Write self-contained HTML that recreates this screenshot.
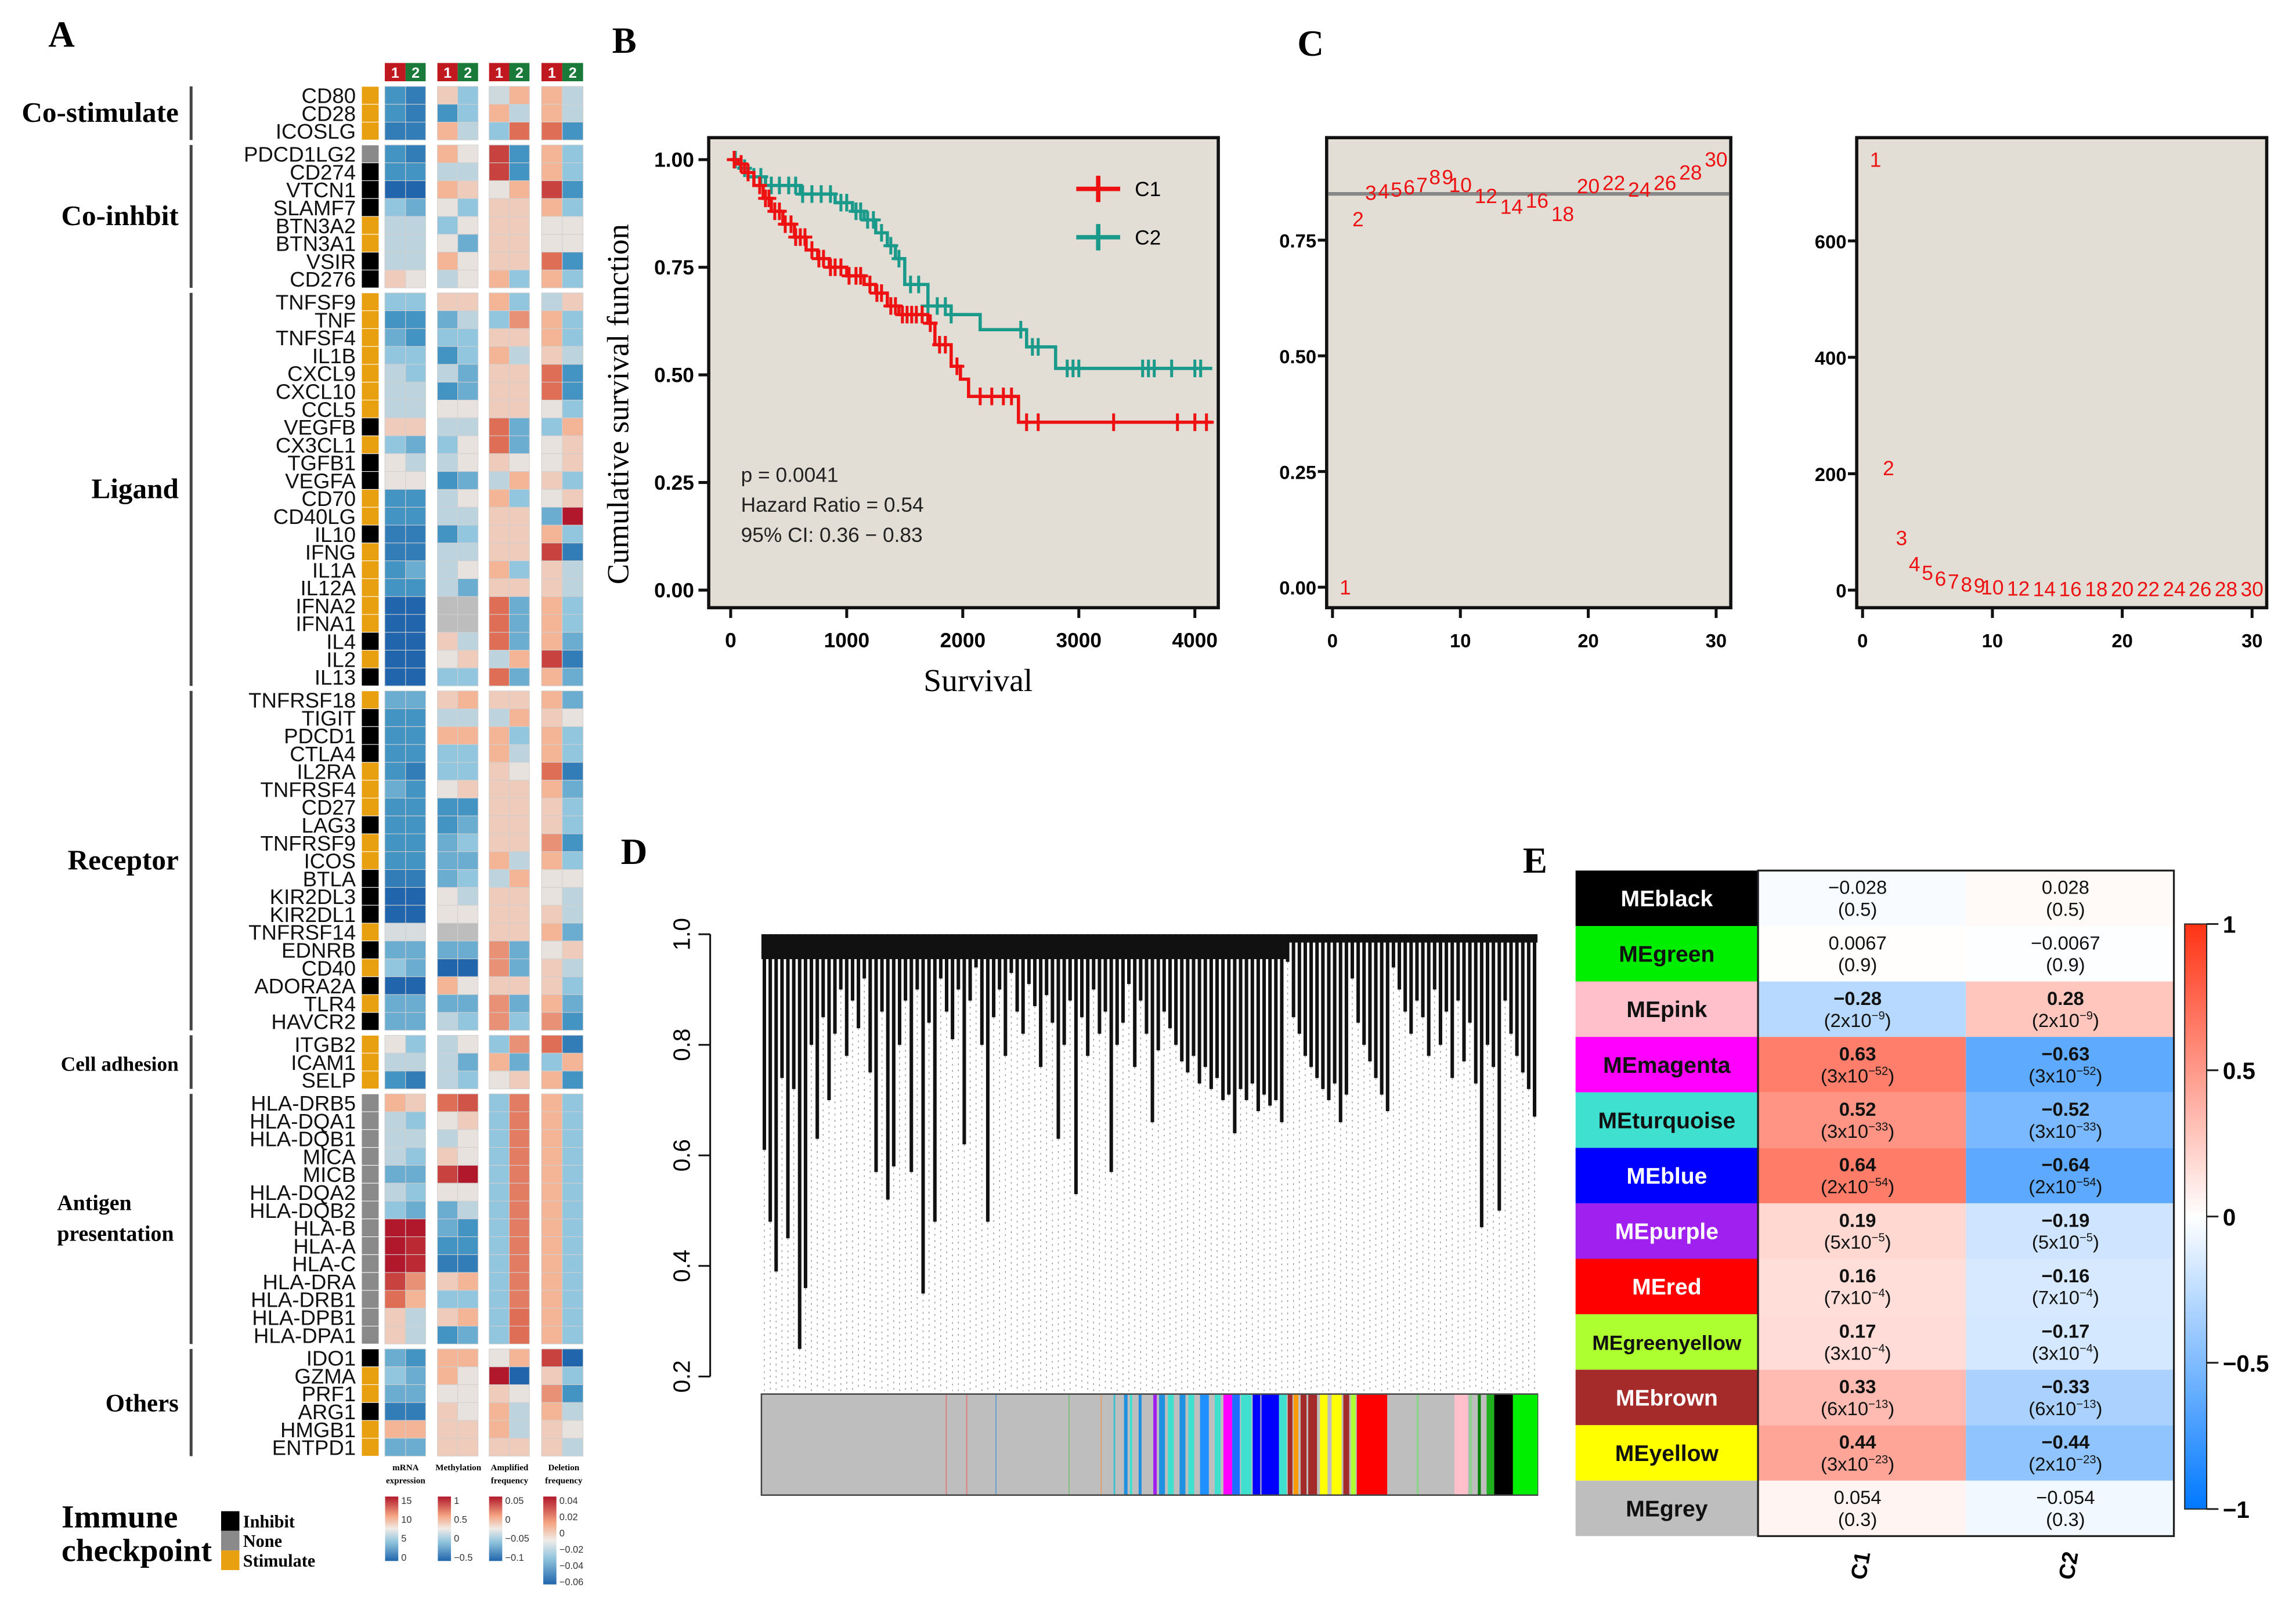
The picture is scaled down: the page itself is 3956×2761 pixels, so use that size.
<!DOCTYPE html>
<html><head><meta charset="utf-8"><style>
html,body{margin:0;padding:0;background:#fff;}
svg{display:block;}
text{font-family:"Liberation Sans",sans-serif;}
.serif{font-family:"Liberation Serif",serif;}
</style></head><body>
<svg id="fig" xmlns="http://www.w3.org/2000/svg" width="3956" height="2761" viewBox="0 0 1568 1094" preserveAspectRatio="none">
<rect x="0" y="0" width="1568" height="1094" fill="#fff"/>
<defs>
<linearGradient id="corrGrad" x1="0" y1="0" x2="0" y2="1">
<stop offset="0" stop-color="#ff3314"/><stop offset="0.5" stop-color="#ffffff"/><stop offset="1" stop-color="#0078ff"/>
</linearGradient>
<linearGradient id="hmGrad" x1="0" y1="0" x2="0" y2="1">
<stop offset="0" stop-color="#b2182b"/><stop offset="0.3" stop-color="#f4a582"/><stop offset="0.5" stop-color="#f0ece8"/><stop offset="0.7" stop-color="#92c5de"/><stop offset="1" stop-color="#2166ac"/>
</linearGradient>
</defs>
<g id="root"></g>
</svg>
<script>
// ---------- Panel A data ----------
const genes = ["CD80","CD28","ICOSLG","PDCD1LG2","CD274","VTCN1","SLAMF7","BTN3A2","BTN3A1","VSIR","CD276","TNFSF9","TNF","TNFSF4","IL1B","CXCL9","CXCL10","CCL5","VEGFB","CX3CL1","TGFB1","VEGFA","CD70","CD40LG","IL10","IFNG","IL1A","IL12A","IFNA2","IFNA1","IL4","IL2","IL13","TNFRSF18","TIGIT","PDCD1","CTLA4","IL2RA","TNFRSF4","CD27","LAG3","TNFRSF9","ICOS","BTLA","KIR2DL3","KIR2DL1","TNFRSF14","EDNRB","CD40","ADORA2A","TLR4","HAVCR2","ITGB2","ICAM1","SELP","HLA-DRB5","HLA-DQA1","HLA-DQB1","MICA","MICB","HLA-DQA2","HLA-DQB2","HLA-B","HLA-A","HLA-C","HLA-DRA","HLA-DRB1","HLA-DPB1","HLA-DPA1","IDO1","GZMA","PRF1","ARG1","HMGB1","ENTPD1"];
const geneTypes = "SSS"+"NIIISSII"+"SSSSSSSISIISSISSSSSISI"+"SIIISSSISSIIISISISI"+"SSS"+"NNNNNNNNNNNNNN"+"ISSISS";
const groupNames = ["Co-stimulate","Co-inhbit","Ligand","Receptor","Cell adhesion","Antigen presentation","Others"];
const groupSizes = [3,8,22,19,3,14,6];
const NA = 9;
const heatValues = [
[-2,-2.5,0.5,-1,-0.3,1,1,-0.5],[-2,-2.5,-2,-1,1,-0.5,1,-0.5],[-2.5,-2.5,1,-0.5,-1,2,2,-2],
[-2,-2.5,1,0,2.5,-2,1,-1],[-2,-2,-0.5,-0.5,2.5,-2,1,-1],[-3,-3,1,0.5,0,1,2.5,-2],[-1,-1.5,0,-1,0.5,0.5,1,-1],[-0.5,-0.5,-1,0,0.5,0.5,0,0],[-0.5,-0.5,0,-1.5,0.5,0.5,0,0],[-0.5,-0.5,1,0,0.5,0.5,2,-2],[0.5,0,-0.5,0,1,-1,1,-1],
[-1,-1,0.5,0.5,1,-1,-0.5,0.5],[-2,-2,-1.5,-0.5,-1,1.5,1,-1],[-1.5,-2,-1,-1,0.5,0.5,1,-1],[-1,-1,-2,-1,1,-0.5,0.5,-0.5],[-0.5,-1,-0.5,-1.5,0.5,0.5,2,-2],[-0.5,-0.5,-2,-1.5,0.5,0.5,2,-2],[-0.5,-0.5,0,0,0.5,0.5,0,-1],[0.5,0.5,-0.5,-0.5,2,-1.5,-1,1],[-1,-1.5,-1,0,2,-1.5,0,0.5],[0,-0.5,-0.5,0,0.5,0,0,0.5],[0,0,-2,-1.5,-0.5,1,0.5,-1],[-2,-2,-0.5,0,1,-1,0,0.5],[-2,-2,-0.5,-0.5,0.5,0.5,-1.5,3],[-2.5,-2.5,-2,-1,0.5,0.5,1,-1],[-2.5,-2.5,-0.5,-0.5,0.5,0.5,2.5,-2.5],[-2,-1.5,-0.5,0,1,-1,0.5,-0.5],[-2,-2,-0.5,-1.5,0.5,0.5,0.5,-0.5],[-3,-3,NA,NA,2,-1.5,1,-1],[-3,-3,NA,NA,2,-1.5,1,-1],[-3,-3,0.5,-0.5,2,-1.5,1,-1.5],[-3,-3,0,0.5,-0.5,1,2.5,-2.5],[-3,-3,-1,-1,2,-1.5,1,-1.5],
[-1.5,-1.5,0.5,1,0.5,0.5,1,-1.5],[-2,-2,-0.5,-0.5,-0.5,1,0.5,0],[-2,-2,1,1,1,-1,1,-1],[-2,-2,-1,-1,1,-0.5,1,-1],[-2,-2.5,-1,-1,0.5,0,2,-2.5],[-1.5,-2,0,0.5,0.5,0.5,1,-1.5],[-2,-2,-2,-2,0.5,0.5,0.5,-1],[-2,-2,-2,-1.5,0.5,0.5,0.5,-1],[-2,-2,-1.5,-1,0.5,0.5,1.5,-2],[-2,-2,-1.5,-1.5,1,-0.5,1,-1],[-2.5,-2.5,-1.5,-1,-0.5,1,0,0],[-3,-3,0,-0.5,0.5,0.5,0,-0.5],[-3,-3,0,0,0.5,0.5,0.5,-0.5],[-0.2,-0.2,NA,NA,0.5,0.5,1,-1.5],[-1.5,-1.5,-1.5,-1.5,1.5,-1.5,0,0.5],[-1,-1.5,-3,-3,1.5,-1.5,0.5,-0.5],[-3,-3,1,0,0.5,0.5,0.5,-1],[-1.5,-1.5,-1.5,-1.5,1.5,-1.5,1,-1.5],[-1.5,-1.5,-0.5,-1,1.5,-1,1.5,-2],
[0,-1,-0.5,0,-1,1.5,2,-2.5],[-0.5,-0.5,-0.5,-1.5,1,-1.5,-1,1],[-2,-2.5,-0.5,-1,0,0.5,1,-2],
[1,0.5,2,2.3,-1,1.8,1,-1],[-0.5,-1,0,0.5,-1,1.8,1,-1],[-0.5,-0.5,-0.5,0,-1,1.8,1,-1],[-0.5,-1,0.5,0,-1,1.8,1,-1],[-1.5,-1.5,2.5,3,-1,1.8,1,-1],[-0.5,-1,0,0,-1,1.8,1,-1],[-1,-1.5,-1.5,-0.5,-1,1.8,1,-1],[3,3,-1.5,-2,-1,1.8,1,-1],[3,2.8,-2,-2,-1,1.8,1,-1],[3,2.8,-2.5,-2.5,-1,1.8,1,-1],[2.5,1.5,0.5,1,-1,1.8,1,-1],[2,1,-1,-1,-1,1.8,1,-1],[0.5,-0.5,0.5,1,-1,2,1,-1],[0.5,-0.5,-2,-1.5,-1,2,1,-1],
[-1.5,-2,1,1,0,1,2.5,-3],[-1,-1.5,1,0,3,-3,0.5,-1],[-1.5,-1.5,0,0,0.5,0,1.5,-2],[-2.5,-2.5,0.5,0,1,-0.5,1,-0.5],[1,1,0.5,0.5,1,-0.5,0.5,0],[-1.5,-1.5,0.5,0.5,0.5,0.5,0.5,-0.5]
];
const trackTitles = [["mRNA","expression"],["Methylation",""],["Amplified","frequency"],["Deletion","frequency"]];
const trackTicks = [["15","10","5","0"],["1","0.5","0","-0.5"],["0.05","0","-0.05","-0.1"],["0.04","0.02","0","-0.02","-0.04","-0.06"]];

// ---------- Panel B data ----------
const c1Times = [0,60,120,200,280,350,450,550,650,750,850,1000,1150,1250,1350,1450,1700,1760,1900,1980,2050,2480];
const c1Surv  = [1.0,0.99,0.97,0.94,0.91,0.88,0.85,0.82,0.79,0.77,0.75,0.73,0.71,0.69,0.66,0.64,0.62,0.57,0.52,0.49,0.45,0.39];
const c2Times = [0,80,150,300,600,900,1050,1150,1250,1350,1420,1500,1700,1900,2150,2550,2800];
const c2Surv  = [1.0,0.98,0.96,0.94,0.92,0.90,0.88,0.86,0.83,0.80,0.77,0.71,0.66,0.64,0.605,0.565,0.515];
const c1Censor = [30,90,150,250,300,330,380,420,470,520,560,600,640,700,760,800,860,900,950,1020,1080,1120,1200,1260,1300,1380,1420,1480,1520,1560,1600,1650,1720,1800,1850,1950,2150,2250,2350,2420,2550,2650,3300,3850,4000,4100];
const c2Censor = [40,120,200,260,350,420,500,560,620,700,780,860,950,1000,1080,1120,1180,1230,1300,1380,1450,1550,1620,1700,1780,1850,1900,2500,2600,2650,2900,2950,3000,3550,3600,3650,3800,4000,4050];
const bXTicks = [0,1000,2000,3000,4000];
const bYTicks = [0,0.25,0.5,0.75,1.0];
const endTime = 4150;

// ---------- Panel C data ----------
const cPowers = [1,2,3,4,5,6,7,8,9,10,12,14,16,18,20,22,24,26,28,30];
const cFit = [0.0,0.796,0.853,0.856,0.86,0.865,0.87,0.887,0.887,0.87,0.846,0.823,0.836,0.807,0.867,0.874,0.86,0.874,0.897,0.925];
const cConn = [740,210,90,45,30,20,15,10,8,5,3,2,2,2,2,2,2,2,2,2];
const cFitYTicks = [0,0.25,0.5,0.75];
const cConnYTicks = [0,200,400,600];
const cXTicks = [0,10,20,30];
const fitCutoff = 0.85;

// ---------- Panel D data ----------
const leafHeights = [0.61,0.48,0.39,0.74,0.45,0.72,0.25,0.36,0.80,0.63,0.85,0.70,0.82,0.90,0.78,0.88,0.83,0.92,0.75,0.57,0.86,0.52,0.58,0.80,0.88,0.57,0.90,0.35,0.84,0.48,0.92,0.86,0.81,0.90,0.62,0.88,0.94,0.80,0.48,0.85,0.90,0.78,0.93,0.86,0.82,0.91,0.87,0.76,0.89,0.84,0.63,0.80,0.88,0.53,0.85,0.78,0.90,0.82,0.86,0.57,0.80,0.84,0.91,0.76,0.88,0.82,0.66,0.79,0.86,0.83,0.80,0.77,0.75,0.78,0.73,0.76,0.72,0.74,0.70,0.71,0.64,0.72,0.70,0.73,0.68,0.71,0.69,0.70,0.66,0.95,0.85,0.82,0.78,0.76,0.74,0.72,0.70,0.73,0.66,0.71,0.92,0.84,0.80,0.77,0.74,0.71,0.68,0.94,0.90,0.86,0.82,0.88,0.85,0.78,0.90,0.80,0.86,0.74,0.88,0.77,0.84,0.73,0.47,0.80,0.76,0.50,0.88,0.82,0.78,0.75,0.72,0.67];
const dYTicks = [0.2,0.4,0.6,0.8,1.0];
const moduleStarts = [525,560,610,735,790,812,830,840,855,880,890,905,925,940,960,985,1000,1015,1030,1050,1065,1095,1110,1120,1132,1145,1165,1185,1205,1218,1228,1330,1395,1420,1435,1450,1463,1495];
const moduleEnds   = [527,562,612,737,792,815,836,844,860,886,900,915,935,950,975,995,1015,1028,1048,1063,1095,1108,1118,1128,1142,1160,1178,1202,1215,1226,1280,1334,1418,1425,1440,1463,1495,1537];
const moduleColors = ["#e08080","#e08080","#6aa0d0","#80c080","#e0a070","#40c0d0","#2090e0","#40e0d0","#2090e0","#a020f0","#2090e0","#40e0d0","#2090e0","#40e0d0","#1e90ff","#40e0d0","#ff00ff","#1e6fff","#40e0d0","#0000ff","#0000ff","#40e0d0","#a52a2a","#ff9900","#a52a2a","#a52a2a","#ffff00","#ffff00","#a52a2a","#adff2f","#ff0000","#90d090","#ffc0cb","#90d090","#008000","#20b020","#000000","#00ee00"];

// ---------- Panel E data ----------
const modules = ["MEblack","MEgreen","MEpink","MEmagenta","MEturquoise","MEblue","MEpurple","MEred","MEgreenyellow","MEbrown","MEyellow","MEgrey"];
const moduleFill = ["#000000","#00ee00","#ffc0cb","#ff00ff","#40e0d0","#0000ff","#a020f0","#ff0000","#adff2f","#a52a2a","#ffff00","#bebebe"];
const corrC1 = [-0.028,0.0067,-0.28,0.63,0.52,0.64,0.19,0.16,0.17,0.33,0.44,0.054];
const corrC2 = [0.028,-0.0067,0.28,-0.63,-0.52,-0.64,-0.19,-0.16,-0.17,-0.33,-0.44,-0.054];
const pMant1 = ["0.5","0.9","2","3","3","2","5","7","3","6","3","0.3"];
const pExp1 = ["","","-9","-52","-33","-54","-5","-4","-4","-13","-23",""];
const pMant2 = ["0.5","0.9","2","3","3","2","5","7","3","6","2","0.3"];
const pExp2 = ["","","-9","-52","-33","-54","-5","-4","-4","-13","-23",""];
const eTicks = [1,0.5,0,-0.5,-1];

// ---------- helpers ----------
const NS = "http://www.w3.org/2000/svg";
const root = document.getElementById('root');
function mk(tag, attrs, parent){ const e=document.createElementNS(NS,tag); for(const k in attrs) e.setAttribute(k,attrs[k]); (parent||root).appendChild(e); return e; }
function txt(s, attrs, parent){ const e=mk('text',attrs,parent); e.textContent=s; return e; }
function lerp(a,b,t){return a+(b-a)*t;}
function mixc(c1,c2,t){return 'rgb('+Math.round(lerp(c1[0],c2[0],t))+','+Math.round(lerp(c1[1],c2[1],t))+','+Math.round(lerp(c1[2],c2[2],t))+')';}
function heatColor(v){
  if(v===NA) return '#bdbdbd';
  const stops=[[-3,[33,102,172]],[-2,[67,147,195]],[-1,[146,197,222]],[0,[232,226,222]],[1,[244,180,150]],[2,[222,110,85]],[3,[178,24,43]]];
  v=Math.max(-3,Math.min(3,v));
  for(let i=0;i<stops.length-1;i++){ if(v<=stops[i+1][0]){ const t=(v-stops[i][0])/(stops[i+1][0]-stops[i][0]); return mixc(stops[i][1],stops[i+1][1],t);} }
  return 'rgb(178,24,43)';
}
function corrColor(v){ return v>=0 ? mixc([255,255,255],[255,50,20],v) : mixc([255,255,255],[0,120,255],-v); }

// ---------- Panel letters ----------
[["A",33,32],["B",418,36],["C",886,38],["D",424,590],["E",1040,596]].forEach(p=>{
  const t=txt(p[0],{x:p[1],y:p[2],'font-size':25,'font-weight':'bold','class':'serif'});
  
  
});

// ---------- Panel A ----------
const gA = mk('g',{});


const rowH=12.2, gapH=3.4, topY=59;
const colX=[262.8,277.0,298.7,312.6,334,347.8,369.8,384];
const colW=[14.2,13.7,13.9,13.9,13.8,13.8,14.2,14.2];
let rowY=[]; { let y=topY; groupSizes.forEach((n,gi)=>{ for(let i=0;i<n;i++){rowY.push(y); y+=rowH;} y+=gapH; }); }
for(let t=0;t<4;t++){
  for(let c=0;c<2;c++){
    const i=t*2+c;
    const r=mk('rect',{x:colX[i],y:43,width:colW[i],height:12.5,fill:c===0?'#c0181f':'#1a7a3a'},gA);
    
    
    const tt=txt(String(c+1),{x:colX[i]+colW[i]/2,y:53,'font-size':10,'font-weight':'bold',fill:'#fff','text-anchor':'middle'},gA);
    
    
  }
}
genes.forEach((g,i)=>{
  const y=rowY[i];
  const lab=txt(g,{x:243,y:y+rowH-0.8,'font-size':14.5,'text-anchor':'end',fill:'#111'},gA);
  
  
  const tp=geneTypes[i];
  const tb=mk('rect',{x:246.9,y:y,width:11.9,height:rowH,fill:tp==='S'?'#e8a010':tp==='I'?'#000':'#8a8a8a',stroke:'#fff','stroke-width':0.4},gA);
  
  
  heatValues[i].forEach((v,j)=>{
    const c=mk('rect',{x:colX[j],y:y,width:colW[j],height:rowH,fill:heatColor(v),stroke:'#d0d0d0','stroke-width':0.4},gA);
    
    
  });
});
{ let k=0; groupSizes.forEach((n,gi)=>{
  const y0=rowY[k], y1=rowY[k+n-1]+rowH; k+=n;
  const ln=mk('line',{x1:130.5,x2:130.5,y1:y0,y2:y1,stroke:'#444','stroke-width':2},gA);
  
  
  const cy=(y0+y1)/2;
  if(gi===5){
    const t1=txt('Antigen',{x:39,y:cy-6,'font-size':15,'font-weight':'bold','class':'serif'},gA);
    
    
    const t2=txt('presentation',{x:39,y:cy+15,'font-size':15,'font-weight':'bold','class':'serif'},gA);
    
    
  } else {
    const fs = gi===4?14:(gi===6?17:19.5);
    const t=txt(groupNames[gi],{x:122,y:cy+6,'font-size':fs,'font-weight':'bold','class':'serif','text-anchor':'end'},gA);
    
    
  }
}); }
{
  const t1=txt('Immune',{x:42,y:1043,'font-size':22,'font-weight':'bold','class':'serif'},gA);
  
  
  const t2=txt('checkpoint',{x:42,y:1066,'font-size':22,'font-weight':'bold','class':'serif'},gA);
  
  
  [['Inhibit','#000'],['None','#8a8a8a'],['Stimulate','#e8a010']].forEach((e,i)=>{
    const r=mk('rect',{x:151,y:1032+i*13.4,width:12.5,height:13.4,fill:e[1]},gA);
    
    
    const t=txt(e[0],{x:166,y:1043+i*13.4,'font-size':12,'font-weight':'bold','class':'serif'},gA);
    
    
  });
  for(let k=0;k<4;k++){
    const bx=[263,299,334,371][k];
    const a=txt(trackTitles[k][0],{x:bx+14,y:1004,'font-size':6,'font-weight':'bold','text-anchor':'middle','class':'serif'},gA);
    
    
    if(trackTitles[k][1]){ const b=txt(trackTitles[k][1],{x:bx+14,y:1013,'font-size':6,'font-weight':'bold','text-anchor':'middle','class':'serif'},gA);
      
       }
    const n=trackTicks[k].length;
    const h = n===6?60:44;
    const cb=mk('rect',{x:bx,y:1022,width:9,height:h,fill:'url(#hmGrad)'},gA);
    
    
    trackTicks[k].forEach((s,i)=>{
      const t=txt(s.replace('-','−'),{x:bx+11,y:1027+i*(h/(n-0.6)),'font-size':6.5,fill:'#333'},gA);
      
      
    });
  }
}

// ---------- Panel B ----------
const gB = mk('g',{});


const bx=t=>499+t*(816-499)/4000, by=s=>403-s*(403-109);
{
  const bg=mk('rect',{x:484,y:94,width:348,height:321,fill:'#e2ddd5',stroke:'#111','stroke-width':2.2},gB);
  
  
  bYTicks.forEach(v=>{
    const tk=mk('line',{x1:477,x2:484,y1:by(v),y2:by(v),stroke:'#111','stroke-width':2},gB);
    
    
    const t=txt(v.toFixed(2),{x:474,y:by(v)+5,'font-size':14,'font-weight':'bold','text-anchor':'end'},gB);
    
    
  });
  bXTicks.forEach(v=>{
    const tk=mk('line',{x1:bx(v),x2:bx(v),y1:415,y2:422,stroke:'#111','stroke-width':2},gB);
    
    
    const t=txt(String(v),{x:bx(v),y:442,'font-size':14,'font-weight':'bold','text-anchor':'middle'},gB);
    
    
  });
  const xl=txt('Survival',{x:668,y:472,'font-size':22,'class':'serif','text-anchor':'middle'},gB);
  
  
  const yl=txt('Cumulative survival function',{x:0,y:0,'font-size':21,'class':'serif','text-anchor':'middle',transform:'translate(429,276) rotate(-90)'},gB);
  
  
  function stepPath(T,S){ let d='M'+bx(T[0])+','+by(S[0]); for(let i=1;i<T.length;i++){ d+='H'+bx(T[i])+'V'+by(S[i]); } d+='H'+bx(endTime); return d; }
  function survAt(T,S,t){ let s=S[0]; for(let i=0;i<T.length;i++){ if(T[i]<=t) s=S[i]; } return s; }
  [[c2Times,c2Surv,c2Censor,'#1a9a8a','c2'],[c1Times,c1Surv,c1Censor,'#ee1111','c1']].forEach(sr=>{
    const p=mk('path',{d:stepPath(sr[0],sr[1]),fill:'none',stroke:sr[3],'stroke-width':2.2},gB);
    
    
    sr[2].forEach(t=>{
      const x=bx(t), y=by(survAt(sr[0],sr[1],t));
      const c=mk('path',{d:'M'+(x-5)+','+y+'h10M'+x+','+(y-6)+'v12',stroke:sr[3],'stroke-width':2},gB);
      
      
    });
  });
  [['C1','#ee1111',129],['C2','#1a9a8a',162]].forEach(l=>{
    const m=mk('path',{d:'M735,'+l[2]+'h30M750,'+(l[2]-9)+'v18',stroke:l[1],'stroke-width':3},gB);
    
    
    const t=txt(l[0],{x:775,y:l[2]+5,'font-size':14},gB);
    
    
  });
  ['p = 0.0041','Hazard Ratio = 0.54','95% CI: 0.36 − 0.83'].forEach((s,i)=>{
    const t=txt(s,{x:506,y:329+i*20.5,'font-size':14,fill:'#222'},gB);
    
    
  });
}

// ---------- Panel C ----------
function panelC(name,x0,x1,yTicks,yFn,fmt){
  const g=mk('g',{});
  
  
  const xFn=v=>x0+4+v*(x1-x0-14)/30;
  const bg=mk('rect',{x:x0,y:94,width:x1-x0,height:321,fill:'#e2ddd5',stroke:'#111','stroke-width':2.2},g);
  
  
  yTicks.forEach(v=>{
    const tk=mk('line',{x1:x0-6,x2:x0,y1:yFn(v),y2:yFn(v),stroke:'#111','stroke-width':2},g);
    
    
    const t=txt(fmt(v),{x:x0-7,y:yFn(v)+5,'font-size':13,'font-weight':'bold','text-anchor':'end'},g);
    
    
  });
  cXTicks.forEach(v=>{
    const tk=mk('line',{x1:xFn(v),x2:xFn(v),y1:415,y2:422,stroke:'#111','stroke-width':2},g);
    
    
    const t=txt(String(v),{x:xFn(v),y:442,'font-size':13,'font-weight':'bold','text-anchor':'middle'},g);
    
    
  });
  return [g,xFn];
}
{
  const fy=v=>401-v*316;
  const [g,xf]=panelC('panel-c-scale-free-fit',906,1182,cFitYTicks,fy,v=>v.toFixed(2));
  const ln=mk('line',{x1:907,x2:1181,y1:fy(fitCutoff),y2:fy(fitCutoff),stroke:'#888','stroke-width':2.5},g);
  
  
  cPowers.forEach((p,i)=>{
    const t=txt(String(p),{x:xf(p),y:fy(cFit[i])+5,'font-size':14,fill:'#ee1111','text-anchor':'middle'},g);
    
    
  });
  const cy=v=>403-v*(79.5/200);
  const [g2,xf2]=panelC('panel-c-mean-connectivity',1268,1548,cConnYTicks,cy,v=>String(v));
  cPowers.forEach((p,i)=>{
    const t=txt(String(p),{x:xf2(p),y:cy(cConn[i])+5,'font-size':14,fill:'#ee1111','text-anchor':'middle'},g2);
    
    
  });
}

// ---------- Panel D ----------
{
  const g=mk('g',{});
  
  
  const dy=v=>638+(1.0-v)*(940-638)/0.8;
  const ax=mk('line',{x1:485,x2:485,y1:dy(1.0),y2:dy(0.2),stroke:'#111','stroke-width':1.2},g);
  
  
  dYTicks.forEach(v=>{
    const tk=mk('line',{x1:477,x2:485,y1:dy(v),y2:dy(v),stroke:'#111','stroke-width':1.2},g);
    
    
    const t=txt(v.toFixed(1),{x:0,y:0,'font-size':16,'text-anchor':'middle',transform:'translate(471,'+dy(v)+') rotate(-90)'},g);
    
    
  });
  const L0=520, L1=1050, n=leafHeights.length, step=(L1-L0)/n;
  leafHeights.forEach((h,i)=>{
    const x=L0+step*(i+0.5);
    const dl=mk('line',{x1:x,x2:x,y1:dy(h),y2:950,stroke:'#999','stroke-width':0.6,'stroke-dasharray':'1.2,3'},g);
    
    
  });
  const band=mk('path',{d:'M'+L0+','+dy(1.0)+'H880V'+dy(0.955)+'H'+L0+'Z M880,'+dy(1.0)+'H1050V'+dy(0.985)+'H880Z',fill:'#111'},g);
  
  
  leafHeights.forEach((h,i)=>{
    const x=L0+step*(i+0.5);
    const ln=mk('line',{x1:x,x2:x,y1:dy(1.0),y2:dy(h),stroke:'#111','stroke-width':2.4},g);
    
    
  });
  const mx=z=>L0+(z-210)*(L1-L0)/1327;
  const cbg=mk('rect',{x:L0,y:952,width:L1-L0,height:69,fill:'#bebebe',stroke:'#444','stroke-width':1},g);
  
  
  moduleStarts.forEach((s,i)=>{
    const r=mk('rect',{x:mx(s),y:952.5,width:Math.max(0.4,mx(moduleEnds[i])-mx(s)),height:68,fill:moduleColors[i]},g);
    
    
  });
}

// ---------- Panel E ----------
{
  const g=mk('g',{});
  
  
  const top=594.5, rh=(1049-594.5)/12, xl=1076, xc=1200.6, cw=142;
  modules.forEach((m,i)=>{
    const y=top+i*rh;
    const r=mk('rect',{x:xl,y:y,width:xc-xl,height:rh,fill:moduleFill[i]},g);
    
    
    const light=['MEblack','MEblue','MEpurple','MEred','MEbrown'].includes(m);
    const t=txt(m,{x:(xl+xc)/2,y:y+rh/2+5.5,'font-size':m.length>11?14:15.5,'font-weight':'bold','text-anchor':'middle',fill:light?'#fff':'#111'},g);
    
    
    [[corrC1,pMant1,pExp1],[corrC2,pMant2,pExp2]].forEach((col,j)=>{
      const v=col[0][i];
      const c=mk('rect',{x:xc+j*cw,y:y,width:cw,height:rh,fill:corrColor(v)},g);
      
      
      const cx=xc+j*cw+cw/2-3;
      const vt=txt(String(v).replace('-','−'),{x:cx,y:y+16,'font-size':13,'text-anchor':'middle',fill:'#111','font-weight':Math.abs(v)>0.1?'bold':'normal'},g);
      
      
      const pt=txt('',{x:cx,y:y+31,'font-size':13,'text-anchor':'middle',fill:'#111'},g);
      
      
      if(col[2][i]){ pt.textContent='('+col[1][i]+'x10'; const sp=mk('tspan',{'font-size':8,dy:-5},pt); sp.textContent=col[2][i].replace('-','−'); const sp2=mk('tspan',{dy:5},pt); sp2.textContent=')'; }
      else pt.textContent='('+col[1][i]+')';
    });
  });
  const bd=mk('rect',{x:xc,y:top,width:cw*2,height:rh*12,fill:'none',stroke:'#222','stroke-width':1.3},g);
  
  
  ['C1','C2'].forEach((s,j)=>{
    const t=txt(s,{x:0,y:0,'font-size':15,'font-weight':'bold','text-anchor':'middle',transform:'translate('+(xc+j*cw+cw/2+4)+',1070) rotate(-80)'},g);
    
    
  });
  const cb=mk('rect',{x:1492,y:631,width:15,height:399.5,fill:'url(#corrGrad)',stroke:'#222','stroke-width':0.8},g);
  
  
  eTicks.forEach(v=>{
    const y=631+(1-v)/2*399.5;
    const tk=mk('line',{x1:1507,x2:1515,y1:y,y2:y,stroke:'#222','stroke-width':1.2},g);
    
    
    const t=txt(String(v).replace('-','−'),{x:1518,y:y+6,'font-size':16,'font-weight':'bold'},g);
    
    
  });
}
</script>
</body></html>
